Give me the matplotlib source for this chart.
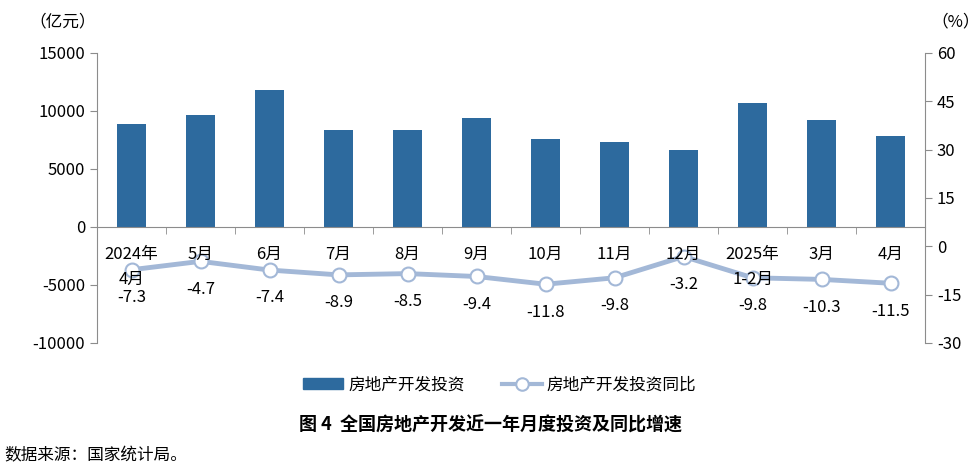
import matplotlib.pyplot as plt
import numpy as np
from matplotlib.patches import Patch
from matplotlib.lines import Line2D

plt.rcParams['font.family'] = ['Noto Sans CJK SC', 'DejaVu Sans']
plt.rcParams['axes.unicode_minus'] = False

# data
months = ['2024年\n4月', '5月', '6月', '7月', '8月', '9月', '10月', '11月', '12月',
          '2025年\n1-2月', '3月', '4月']
investment = [8880, 9660, 11810, 8360, 8360, 9400, 7590, 7330, 6640, 10690, 9220, 7850]
yoy_growth = [-7.3, -4.7, -7.4, -8.9, -8.5, -9.4, -11.8, -9.8, -3.2, -9.8, -10.3, -11.5]

BAR_COLOR = '#2d6a9e'
LINE_COLOR = '#a3b8d7'
AXIS_GRAY = '#8c8c8c'
FS = 12

fig = plt.figure(figsize=(9.8, 4.69), dpi=100)
ax = fig.add_axes([0.099, 0.269, 0.845, 0.618])
ax2 = ax.twinx()
# keep the month labels on top of the growth line
ax.set_zorder(ax2.get_zorder() + 1)
ax.patch.set_visible(False)

x = np.arange(len(months))
ax.bar(x, investment, width=0.41, color=BAR_COLOR, zorder=2)
ax.set_xlim(-0.5, len(months) - 0.5)
ax.set_ylim(-10000, 15000)
ax.set_yticks(np.arange(-10000, 15001, 5000))

ax2.plot(x, yoy_growth, color=LINE_COLOR, lw=3.5, marker='o', ms=10,
         mfc='white', mec=LINE_COLOR, mew=1.5, zorder=3)
ax2.set_ylim(-30, 60)
ax2.set_yticks(np.arange(-30, 61, 15))
for xi, v in zip(x, yoy_growth):
    ax2.annotate(f'{v:.1f}', (xi, v), xytext=(0, -20), textcoords='offset points',
                 ha='center', va='center', fontsize=FS, color='black')

# spines
for a in (ax, ax2):
    for s in a.spines.values():
        s.set_visible(False)
ax.spines['left'].set_visible(True)
ax.spines['left'].set_color(AXIS_GRAY)
ax2.spines['right'].set_visible(True)
ax2.spines['right'].set_color(AXIS_GRAY)
ax.spines['bottom'].set_visible(True)
ax.spines['bottom'].set_position(('data', 0))
ax.spines['bottom'].set_color(AXIS_GRAY)

ax.tick_params(axis='y', colors=AXIS_GRAY, labelcolor='black', labelsize=FS, length=5)
ax2.tick_params(axis='y', colors=AXIS_GRAY, labelcolor='black', labelsize=FS, length=5)

ax.set_xticks(x)
ax.set_xticklabels(months, fontsize=FS, linespacing=1.55)
ax.set_xticks(np.arange(-0.5, len(months), 1), minor=True)
ax.tick_params(axis='x', which='major', length=0, pad=14)
ax.tick_params(axis='x', which='minor', length=5, color=AXIS_GRAY)

fig.text(0.030, 0.953, '（亿元）', fontsize=FS, ha='left', va='center')
fig.text(0.950, 0.953, '（%）', fontsize=FS, ha='left', va='center')

# legend
handles = [Patch(color=BAR_COLOR, label='房地产开发投资'),
           Line2D([], [], color=LINE_COLOR, lw=3, marker='o', ms=9, mfc='white',
                  mec=LINE_COLOR, mew=1.5, label='房地产开发投资同比')]
fig.legend(handles=handles, loc='center', bbox_to_anchor=(0.51, 0.179), ncol=2,
           frameon=False, fontsize=FS, handlelength=2.4, handleheight=0.6,
           columnspacing=2.2, handletextpad=0.3)

fig.text(0.5, 0.094, '图 4  全国房地产开发近一年月度投资及同比增速', ha='center', va='center',
         fontsize=13, fontweight='bold')
fig.text(0.004, 0.028, '数据来源：国家统计局。', ha='left', va='center', fontsize=12)

fig.savefig('out.png', dpi=100)
